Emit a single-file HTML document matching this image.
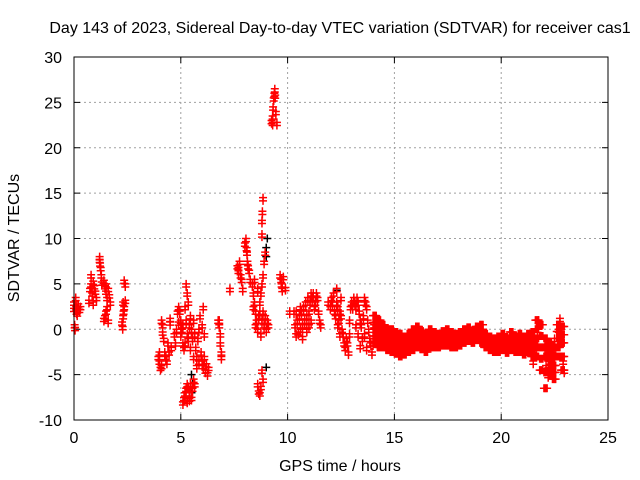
<!DOCTYPE html>
<html><head><meta charset="utf-8"><style>
html,body{margin:0;padding:0;background:#fff;}
svg{display:block;font-family:"Liberation Sans",sans-serif;}
</style></head><body>
<svg id="chart" width="640" height="480" xmlns="http://www.w3.org/2000/svg">
<text x="340" y="33" text-anchor="middle" font-size="16">Day 143 of 2023, Sidereal Day-to-day VTEC variation (SDTVAR) for receiver cas1</text>
<text x="340" y="471" text-anchor="middle" font-size="16">GPS time / hours</text>
<text x="0" y="0" transform="translate(19,238) rotate(-90)" text-anchor="middle" font-size="16">SDTVAR / TECUs</text>
<g id="grid"></g><g id="ticks"></g><g id="marks"></g>
<rect x="74" y="57" width="534" height="363" fill="none" stroke="#000" stroke-width="1"/>
</svg>
<script>
const xTicks=[0,5,10,15,20,25];
const yTicks=[-10,-5,0,5,10,15,20,25,30];
const bandHours=[14.0,14.2,14.4,14.6,14.8,15.0,15.2,15.4,15.6,15.8,16.0,16.2,16.4,16.6,16.8,17.0,17.2,17.4,17.6,17.8,18.0,18.2,18.4,18.6,18.8,19.0,19.2,19.4,19.6,19.8,20.0,20.2,20.4,20.6,20.8,21.0,21.2,21.4,21.6,21.8,22.0,22.2,22.4,22.6,22.8];
const bandHigh=[1.5,1,0.5,0,0,-0.3,-0.5,-0.8,-0.5,0,0.3,-0.2,-0.5,0,-0.3,-0.5,-0.2,0,-0.3,-0.5,-0.3,0,0.2,-0.2,0.3,0.5,-0.5,-0.8,-1,-0.8,-0.5,-1,-0.3,-0.8,-0.5,-0.8,-0.5,-0.3,1,0.5,-1,-1.5,-2,0.5,0.3];
const bandMid=[0,-0.5,-1,-1.2,-1.3,-1.5,-1.8,-2,-1.7,-1.3,-1,-1.2,-1.5,-1,-1.2,-1.3,-1,-0.8,-1,-1.2,-1,-0.8,-0.5,-0.8,-0.3,-0.5,-1.2,-1.5,-1.7,-1.6,-1.5,-1.8,-1.3,-1.6,-1.5,-1.7,-1.5,-1.5,-1,-2,-3,-3.5,-4,-1,-1.5];
const bandLow=[-1.5,-2,-2,-2.3,-2.5,-2.7,-3,-2.8,-2.5,-2.3,-2,-2.2,-2.5,-2,-2,-2,-1.8,-1.8,-2,-2,-1.8,-1.5,-1.3,-1.5,-1.2,-1.5,-2,-2.3,-2.5,-2.5,-2.3,-2.6,-2.3,-2.5,-2.5,-2.8,-2.5,-3,-3,-4.5,-6.5,-5,-5.5,-3,-4.5];
const ptHours=[0,0,0.03,0.05,0.08,0.1,0.15,0.2,0.25,0.3,0.12,
0.7,0.75,0.8,0.85,0.9,0.95,0.8,1.0,1.05,0.9,
1.2,1.22,1.25,1.28,1.3,1.2,
1.4,1.45,1.5,1.55,1.6,1.65,1.5,1.45,1.4,1.55,1.7,1.6,1.5,
2.35,2.4,2.3,2.35,2.3,2.25,2.28,2.4,2.32,
3.95,4.0,4.05,4.0,4.1,4.15,4.2,4.25,4.3,4.35,4.15,4.4,4.45,4.5,4.55,4.1,4.5,
4.7,4.75,4.8,4.85,4.9,4.95,5.0,5.05,5.1,5.15,5.0,5.2,5.25,5.3,5.35,5.4,5.45,5.5,5.55,5.25,5.3,5.35,4.9,5.1,5.2,5.45,
5.1,5.15,5.2,5.25,5.3,5.35,5.4,5.45,5.5,5.55,5.6,5.65,5.3,5.4,
5.6,5.65,5.7,5.75,5.8,5.85,5.9,5.95,6.0,6.05,6.1,6.15,6.2,6.25,6.3,6.0,6.1,5.75,5.85,6.05,5.6,
6.75,6.8,6.85,6.85,6.9,6.9,6.8,
7.3,7.65,7.7,7.75,7.8,7.85,7.9,7.7,
8.05,8.08,8.1,8.12,8.15,8.2,8.25,8.0,
8.35,8.4,8.45,8.5,8.55,8.4,8.5,8.6,8.65,8.7,8.75,8.8,8.85,8.9,8.95,8.85,8.9,8.95,9.0,9.05,9.1,8.6,8.7,8.8,8.45,8.75,8.8,8.82,8.85,8.8,
8.6,8.65,8.7,8.75,8.8,8.85,
9.25,9.3,9.32,9.35,9.38,9.4,9.42,9.45,9.5,9.3,
9.65,9.7,9.72,9.75,9.8,9.9,10.1,10.4,
10.3,10.35,10.4,10.45,10.5,10.55,10.6,10.65,10.7,10.75,10.8,10.85,10.9,10.95,11.0,11.05,11.1,11.15,11.2,11.25,11.3,11.35,11.4,11.5,11.55,10.7,10.6,10.9,11.0,11.1,11.45,
11.9,12.0,12.05,12.1,12.15,12.2,12.25,12.3,12.3,12.35,12.4,12.45,12.5,12.55,12.6,12.65,12.7,12.75,12.8,12.85,12.9,12.5,12.45,12.35,
12.9,12.95,13.0,13.05,13.1,13.15,13.2,13.25,13.3,13.35,13.4,13.45,13.5,13.55,13.6,13.65,13.7,13.75,13.8,13.85,13.9,13.95,14.0,13.6,13.7,13.2,13.3,13.4,14.05,
21.5,21.7,21.75,21.5,22.1,22.2,22.3,22.9,22.95,22.7,22.75,22.4,22.5];
const ptValues=[3,2.3,0.5,0.2,3.5,2.5,1.8,2.8,2.2,2.5,2,
3.2,4.5,5,4,3,4.8,6,4.2,3.5,5.3,
8,7.3,6.8,6,5.2,7.7,
5.4,4.8,4.2,3.5,4.5,3.8,2,1.5,1.2,2.5,3,1,5,
5.4,5,3,2.5,1.5,0.8,0.3,3.2,2,
-3,-3.5,-4.2,-2.5,1,0.5,-1,-2.5,-3,-3.5,-0.3,-1.5,-2.5,0.8,-2,-4,1.2,
-0.5,-1.5,0,2,2.5,2,1,0,-1.5,-2,-0.5,2.5,1,-0.5,-1,0.5,1.5,0,-1,5,4,3,0.8,0.5,-1.5,-2,
-8,-7.5,-7,-6.5,-6,-6.3,-7,-6,-7.5,-6.5,-5.5,-6,-7.8,-7.6,
1,-0.5,-2,-3,-1,0,1.5,-2.5,-3.5,-4,-3,-4.5,-3.8,-4.8,-4.2,0.5,-0.5,-4,-3.5,2.5,-3,
1,0.5,-0.5,-1.5,-2.5,-3,1,
4.5,7,6.5,7.5,6,5.5,4.5,6.8,
10,9,8.5,7.5,7,6.5,5.5,9.5,
5,4,3,2,1,2.5,0.5,0,1.5,3,4,5,6,7.5,8.5,2,0.5,1.5,0,1,0.5,4.5,2,1,5.5,-0.5,12,13,14.5,10.5,
-6,-6.8,-7,-6.3,-4.5,-5.5,
23,23.5,24.5,25.5,26,26.5,25.8,24,22.8,22.8,
6,5.5,5,4.5,5.8,4.6,2,2,
2,0.5,-0.5,1,-0.3,1.5,0,2,0.5,2.5,1,3,1.5,3.5,2,3,4,3.5,4,2.5,3,4,3.5,1,0.5,-0.8,2.5,0,0.5,1,2,
3,2.5,3.5,3,4,2,1.5,4.5,3,2.5,1,2,3.5,0,-0.5,-1.5,-2,-1,-1.5,-2.5,-0.5,1.5,-0.5,0.5,
1,2.5,3,2.5,3.5,3,2.5,3.5,3,2,1,0.5,-1,1.5,3.5,3,2.5,1,0,-1,-1.5,-2.5,-1.5,-0.5,-2,0.5,-0.5,-1.8,0.5,
-2.5,0,1,-3.5,-4,-5,-3.5,-3.5,-4.5,0,1.2,-2.5,-1];
const refHours=[9.0,9.0,9.05,5.5,5.55,5.5,12.3,22.8,9.0];
const refValues=[8,9,10,-5,-6,-7,4.3,0,-4.2];

const X0=74,X1=608,Y0=420,Y1=57;
function xs(h){return X0+(h-0)/(25-0)*(X1-X0);}
function ys(v){return Y0-(v+10)/(30+10)*(Y0-Y1);}
const NS='http://www.w3.org/2000/svg';
function mk(tag,attrs,parent){const e=document.createElementNS(NS,tag);for(const k in attrs)e.setAttribute(k,attrs[k]);parent.appendChild(e);return e;}
const grid=document.getElementById('grid'),ticks=document.getElementById('ticks'),marks=document.getElementById('marks');
xTicks.forEach(t=>{const x=xs(t);
 if(t>0&&t<25){const g=mk('line',{x1:x,y1:Y1,x2:x,y2:Y0,stroke:'#a0a0a0','stroke-dasharray':'2,3','stroke-width':1},grid);
 
 }
 mk('line',{x1:x,y1:Y0,x2:x,y2:Y0-6,stroke:'#000'},ticks);
 mk('line',{x1:x,y1:Y1,x2:x,y2:Y1+6,stroke:'#000'},ticks);
 const l=mk('text',{x:x,y:443,'text-anchor':'middle','font-size':16},ticks);l.textContent=t;
 
 
});
yTicks.forEach(t=>{const y=ys(t);
 if(t>-10&&t<30){const g=mk('line',{x1:X0,y1:y,x2:X1,y2:y,stroke:'#a0a0a0','stroke-dasharray':'2,3','stroke-width':1},grid);
 
 }
 mk('line',{x1:X0,y1:y,x2:X0+6,y2:y,stroke:'#000'},ticks);
 mk('line',{x1:X1,y1:y,x2:X1-6,y2:y,stroke:'#000'},ticks);
 const l=mk('text',{x:62,y:y+6,'text-anchor':'end','font-size':16},ticks);l.textContent=t;
 
 
});
function plus(h,v,color,name){const x=xs(h),y=ys(v);
 const p=mk('path',{d:`M${x-4},${y}H${x+4}M${x},${y-4}V${y+4}`,stroke:color,'stroke-width':1.5,fill:'none'},marks);
 
 
}
refHours.forEach((h,i)=>plus(h,refValues[i],'#000','reference-point'));
ptHours.forEach((h,i)=>{plus(h,ptValues[i],'#f00','sdtvar-point');plus(h,ptValues[i]-0.35,'#f00','sdtvar-point');});
bandHours.forEach((h,i)=>{
 [0,0.05,0.1,0.15].forEach(d=>{
  plus(h+d,bandHigh[i],'#f00','sdtvar-point');
  plus(h+d,(bandHigh[i]+bandMid[i])/2,'#f00','sdtvar-point');
  plus(h+d,bandMid[i],'#f00','sdtvar-point');
  plus(h+d,(bandMid[i]+bandLow[i])/2,'#f00','sdtvar-point');
  plus(h+d,bandLow[i],'#f00','sdtvar-point');
 });
});
</script>
</body></html>
